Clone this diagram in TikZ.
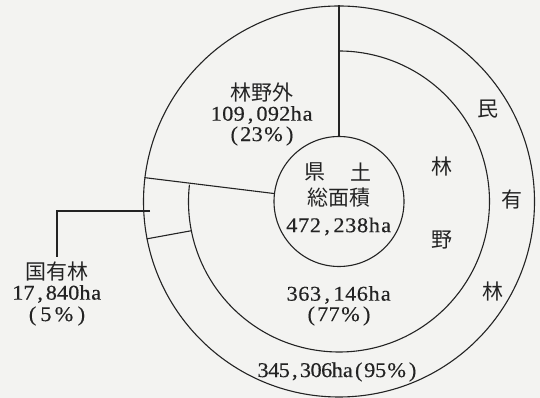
\documentclass[tikz,border=0pt]{standalone}
\usepackage{fontspec}
\setmainfont[FakeStretch=1.06,FakeBold=0.4]{Liberation Serif}
\newfontfamily\jp{Noto Sans CJK JP}
\ExplSyntaxOn
\NewDocumentCommand\hw{O{11.5pt}m}{\tl_map_inline:nn{#2}{\makebox[#1]{##1}}}
\ExplSyntaxOff
\newcommand\pct[1][21pt]{\makebox[#1]{\%}}
\definecolor{ink}{RGB}{35,35,35}
\definecolor{paper}{RGB}{243,243,241}
\begin{document}
\begin{tikzpicture}[x=1pt,y=1pt,
  ln/.style={draw=ink,line width=1.1pt},
  jt/.style={font=\jp\fontsize{21}{21}\selectfont, text=ink, inner sep=0pt},
  nt/.style={font=\fontsize{21}{21}\selectfont, text=ink, inner sep=0pt}]
\fill[paper] (0,0) rectangle (540,398);
\useasboundingbox (0,0) rectangle (540,398);
\coordinate (C) at (339,196.5);
\node[circle, ln, minimum size=391pt, inner sep=0pt] (outer) at (C) {};
\node[circle, ln, minimum size=130pt, inner sep=0pt] (land) at (C) {};
\coordinate (m1) at ([shift={(173.6:150.5)}]C);
\coordinate (m2) at ([shift={(191.2:150.5)}]C);
\draw[ln] (m1) arc[start angle=173.6,end angle=450,radius=150.5];
\draw[ln] (outer.90) -- (land.90);
\draw[ln] (outer.173.6) -- (land.173.6);
\draw[ln] (outer.191.2) -- (m2);
\coordinate (lead) at (150,187);
\coordinate (lt) at (57,141);
\draw[ln] (lead) -| (lt);
% inner circle text
\node[jt] (ken) at (315,226) {県};
\node[jt] (do) at (361,226) {土};
\node[jt] (somen) at (339,200) {総面積};
\node[nt] (total) at (339,171.5) {\hw[11.8pt]{472,238ha}};
% outside forest
\node[jt] (rinyagai) at (262,305) {林野外};
\node[nt] (rgv) at (262,283) {\hw[11.4pt]{109,092ha}};
\node[nt] (rgp) at (262,262) {\hw{(23}\pct\hw{)}};
% forest
\node[nt] (rv) at (339,103) {\hw[11.7pt]{363,146ha}};
\node[nt] (rp) at (339,82) {\hw{(77}\pct\hw{)}};
\node[jt] (rin) at (442,232) {林};
\node[jt] (ya) at (442,158) {野};
% private forest
\node[jt] (min) at (488,289) {民};
\node[jt] (yu) at (512,198) {有};
\node[jt] (rin2) at (493,107) {林};
\node[nt] (mv) at (338,26) {\hw[10.6pt]{345,306ha}\hw[11pt]{(95}\pct\hw[11pt]{)}};
% national forest
\node[jt] (koku) at (57,126) {国有林};
\node[nt] (kv) at (57,104) {\hw[11.2pt]{17,840ha}};
\node[nt] (kp) at (57,82) {\makebox[13pt]{(}\makebox[14pt]{5}\pct[22pt]\makebox[13pt]{)}};
\end{tikzpicture}
\end{document}
